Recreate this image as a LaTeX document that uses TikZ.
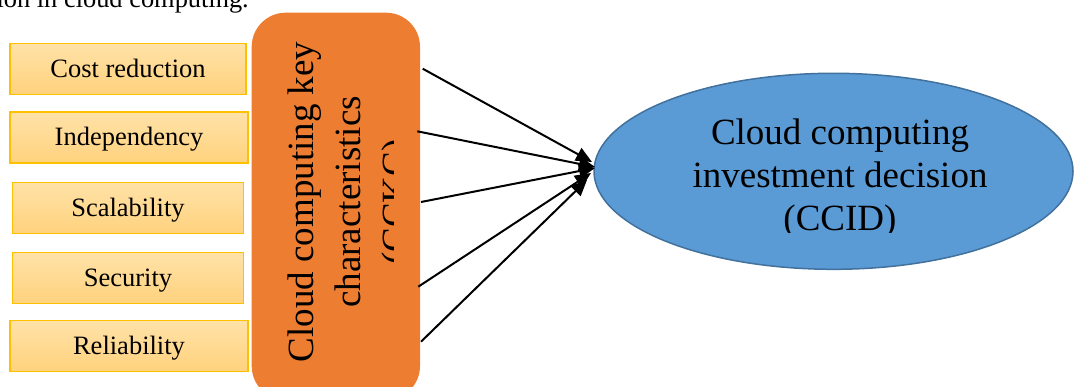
\documentclass[tikz,border=0pt]{standalone}
\usepackage{fontspec}
\setmainfont{Liberation Serif}
\usetikzlibrary{shapes.geometric,arrows.meta}
\definecolor{boxedge}{HTML}{FFC000}
\definecolor{boxtop}{HTML}{FFE2A8}
\definecolor{boxbot}{HTML}{FFD27D}
\definecolor{orangefill}{HTML}{ED7D31}
\definecolor{bluefill}{HTML}{5B9BD5}
\definecolor{blueedge}{HTML}{41719C}
\tikzset{
  charbox/.style={draw=boxedge, line width=1.3pt, top color=boxtop, bottom color=boxbot,
    minimum height=51pt, inner sep=0pt, text height=17pt, text depth=0pt,
    font=\fontsize{26.5}{30}\selectfont},
  vline/.style={rotate=90, anchor=base, inner sep=0pt, font=\fontsize{37}{44}\selectfont},
  eline/.style={anchor=base, inner sep=0pt, font=\fontsize{37}{44}\selectfont},
  link/.style={line width=2pt, -{Triangle[length=16pt,width=14pt]}}
}
\begin{document}
\begin{tikzpicture}[x=1pt,y=-1pt]
\useasboundingbox (0,0) rectangle (1075,387);
% clipped caption tail
\node[anchor=base east, inner sep=0pt, font=\fontsize{26.4}{30}\selectfont] (captail) at (249,8) {ion in cloud computing.};
% characteristic boxes
\node[charbox, minimum width=236pt] (c1) at (128,68.8) {Cost reduction};
\node[charbox, minimum width=238pt] (c2) at (129,137.5) {Independency};
\node[charbox, minimum width=231.4pt] (c3) at (128,207.8) {Scalability};
\node[charbox, minimum width=231.4pt] (c4) at (128,278.3) {Security};
\node[charbox, minimum width=238pt] (c5) at (129,345.8) {Reliability};
% orange box
\node[fill=orangefill, rounded corners=34pt, minimum width=168.3pt, minimum height=387.3pt, inner sep=0pt] (cckc) at (335.85,206.35) {};
\begin{scope}
\clip (252,0) rectangle (393,387);
\node[vline] (k1) at (313,202) {Cloud computing key};
\node[vline] (k2) at (360,202) {characteristics};
\node[vline] (k3) at (407,202) {(CCKC)};
\end{scope}
% ellipse
\node[ellipse, fill=bluefill, draw=blueedge, line width=1.5pt, minimum width=479pt, minimum height=196pt, inner sep=0pt] (ccid) at (833.5,171.3) {};
\begin{scope}
\clip (600,60) rectangle (1075,233);
\node[eline] (d1) at (840,145) {Cloud computing};
\node[eline] (d2) at (840,188) {investment decision};
\node[eline] (d3) at (840,231) {(CCID)};
\end{scope}
% connectors
\coordinate (s1) at (422.7,68.7);
\coordinate (s2) at (417.3,131.3);
\coordinate (s3) at (421,202);
\coordinate (s4) at (418.3,286.7);
\coordinate (s5) at (421,341.7);
\coordinate (t1) at (592,162);
\coordinate (t2) at (595,167);
\coordinate (t3) at (595,168);
\coordinate (t4) at (591,173);
\coordinate (t5) at (587,180);
\draw[link] (s1) -- (t1);
\draw[link] (s2) -- (t2);
\draw[link] (s3) -- (t3);
\draw[link] (s4) -- (t4);
\draw[link] (s5) -- (t5);
\end{tikzpicture}
\end{document}
